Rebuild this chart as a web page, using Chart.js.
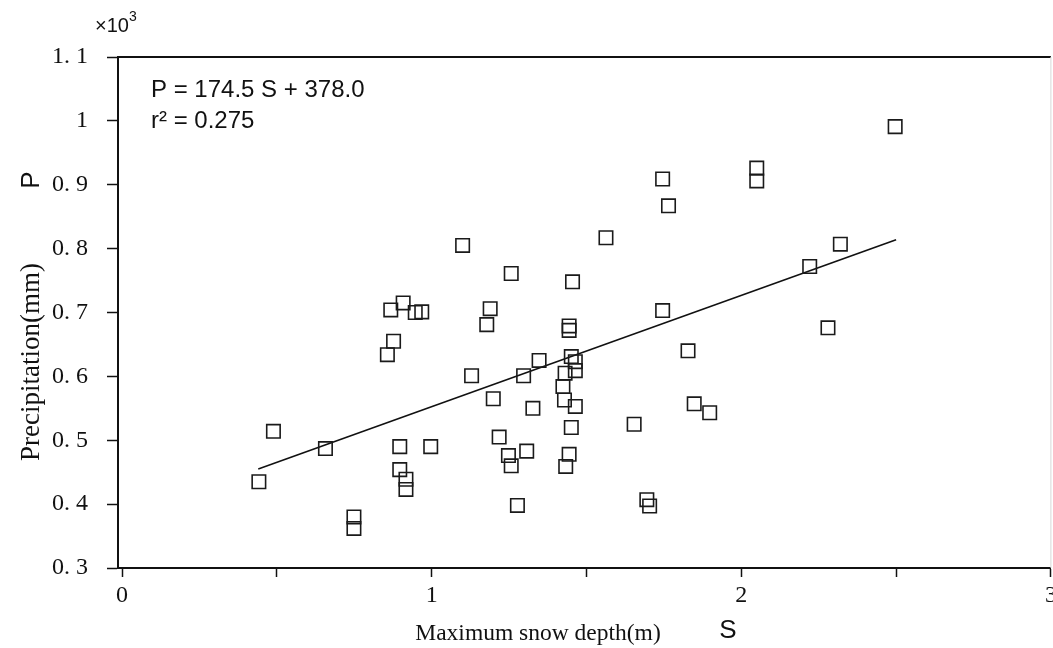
<!DOCTYPE html>
<html>
<head>
<meta charset="utf-8">
<script src="https://cdn.jsdelivr.net/npm/chart.js@4.4.1/dist/chart.umd.min.js"></script>
<style>
  html, body { margin: 0; padding: 0; background: #fff; overflow: hidden; }
  #wrap { width: 1053px; height: 648px; position: relative; overflow: hidden; }
</style>
</head>
<body>
<div id="wrap"><canvas id="snowChart" width="1062" height="648"></canvas></div>
<script>
// valores (P en x10^3 mm, S en m)
const snowDepth = [
  0.442, 0.489, 0.657, 0.749, 0.749, 0.857, 0.868, 0.877, 0.897, 0.897,
  0.908, 0.917, 0.917, 0.947, 0.968, 0.997, 1.100, 1.129, 1.178, 1.189,
  1.199, 1.218, 1.248, 1.257, 1.257, 1.277, 1.297, 1.307, 1.327, 1.347,
  1.424, 1.429, 1.431, 1.433, 1.444, 1.444, 1.444, 1.451, 1.451, 1.455,
  1.464, 1.464, 1.464, 1.563, 1.654, 1.695, 1.704, 1.746, 1.746, 1.765,
  1.828, 1.848, 1.898, 2.050, 2.050, 2.221, 2.280, 2.320, 2.497
];
const precip = [
  0.435, 0.514, 0.487, 0.380, 0.362, 0.634, 0.704, 0.655, 0.490, 0.454,
  0.715, 0.439, 0.423, 0.700, 0.701, 0.490, 0.805, 0.601, 0.681, 0.706,
  0.565, 0.505, 0.476, 0.460, 0.761, 0.398, 0.601, 0.483, 0.550, 0.625,
  0.584, 0.563, 0.605, 0.459, 0.478, 0.679, 0.672, 0.631, 0.520, 0.748,
  0.623, 0.609, 0.553, 0.817, 0.525, 0.407, 0.397, 0.909, 0.703, 0.867,
  0.640, 0.557, 0.543, 0.926, 0.906, 0.772, 0.676, 0.807, 0.991
];
// recta de regresion P = 174.5 S + 378.0 (extremos leidos)
const fitS = [0.44, 2.5];
const fitP = [0.455, 0.814];

const xTickLabels = ["0", "1", "2", "3"];
const equationText = "P = 174.5 S + 378.0";
const r2Text = "r\u00B2 = 0.275";
const xTitle = "Maximum snow depth(m)";
const yTitle = "Precipitation(mm)";

const SERIF = "'Liberation Serif', 'DejaVu Serif', serif";
const SANS = "'Liberation Sans', Arial, sans-serif";

function yTickText(v) {
  const r = Math.round(v * 10) / 10;
  if (r === 1) return "1";
  return r.toFixed(1).replace(".", ". ");
}

function xTickText(v) {
  const r = Math.round(v * 2) / 2;
  if (Math.abs(r - v) > 0.001) return "";
  return Number.isInteger(r) ? xTickLabels[r] : "";
}

const extrasPlugin = {
  id: "extras",
  afterDraw(chart) {
    const ctx = chart.ctx;
    const a = chart.chartArea;
    ctx.save();
    // marco superior y derecho
    ctx.strokeStyle = "#111";
    ctx.lineWidth = 2;
    ctx.beginPath();
    ctx.moveTo(a.left, a.top);
    ctx.lineTo(a.right, a.top);
    ctx.stroke();
    ctx.strokeStyle = "#d8d8d8";
    ctx.lineWidth = 1;
    ctx.beginPath();
    ctx.moveTo(a.right, a.top);
    ctx.lineTo(a.right, a.bottom);
    ctx.stroke();

    ctx.fillStyle = "#111";
    ctx.textBaseline = "middle";
    ctx.textAlign = "left";
    ctx.font = "20px " + SANS;
    ctx.fillText("\u00D710", 95, 26);
    ctx.font = "14px " + SANS;
    ctx.fillText("3", 129, 17);

    ctx.font = "24px " + SANS;
    ctx.fillText(equationText, a.left + 33, 90);
    ctx.fillText(r2Text, a.left + 33, 121);

    ctx.textAlign = "center";
    ctx.font = "23.5px " + SERIF;
    ctx.fillText(xTitle, 538, 634);
    ctx.font = "26px " + SANS;
    ctx.fillText("S", 728, 631);

    ctx.translate(32, 0);
    ctx.rotate(-Math.PI / 2);
    ctx.font = "27px " + SERIF;
    ctx.fillText(yTitle, -362, 0);
    ctx.font = "26px " + SANS;
    ctx.fillText("P", -180, 0);
    ctx.restore();
  }
};

const points = snowDepth.map((s, i) => ({ x: s, y: precip[i] }));
const fitLine = fitS.map((s, i) => ({ x: s, y: fitP[i] }));

new Chart(document.getElementById("snowChart"), {
  type: "scatter",
  data: {
    datasets: [
      {
        label: "P",
        data: points,
        pointStyle: "rect",
        pointRadius: 9.5,
        pointHoverRadius: 9.5,
        borderColor: "#1a1a1a",
        borderWidth: 1.6,
        backgroundColor: "rgba(255,255,255,0)"
      },
      {
        label: "fit",
        type: "line",
        data: fitLine,
        borderColor: "#111",
        borderWidth: 1.6,
        pointRadius: 0,
        fill: false
      }
    ]
  },
  plugins: [extrasPlugin],
  options: {
    responsive: false,
    animation: false,
    events: [],
    layout: { padding: { left: 0, top: 57, right: 0, bottom: 0 } },
    plugins: {
      legend: { display: false },
      tooltip: { enabled: false }
    },
    scales: {
      x: {
        type: "linear",
        min: -0.013,
        max: 3,
        afterFit(scale) {
          scale.height = 80;
        },
        border: { display: true, color: "#111", width: 2 },
        grid: {
          drawOnChartArea: false,
          drawTicks: true,
          tickLength: 9,
          color: "#111",
          tickWidth: 1.5
        },
        ticks: {
          stepSize: 0.5,
          includeBounds: false,
          autoSkip: false,
          maxRotation: 0,
          padding: 4,
          color: "#111",
          font: { family: SERIF, size: 24 },
          callback: xTickText
        }
      },
      y: {
        type: "linear",
        min: 0.3,
        max: 1.1,
        afterFit(scale) {
          scale.width = 118;
        },
        border: { display: true, color: "#111", width: 2 },
        grid: {
          drawOnChartArea: false,
          drawTicks: true,
          tickLength: 11,
          color: "#111",
          tickWidth: 1.5
        },
        ticks: {
          stepSize: 0.1,
          autoSkip: false,
          padding: 19,
          color: "#111",
          font: { family: SERIF, size: 24 },
          callback: yTickText
        }
      }
    }
  }
});
</script>
</body>
</html>
